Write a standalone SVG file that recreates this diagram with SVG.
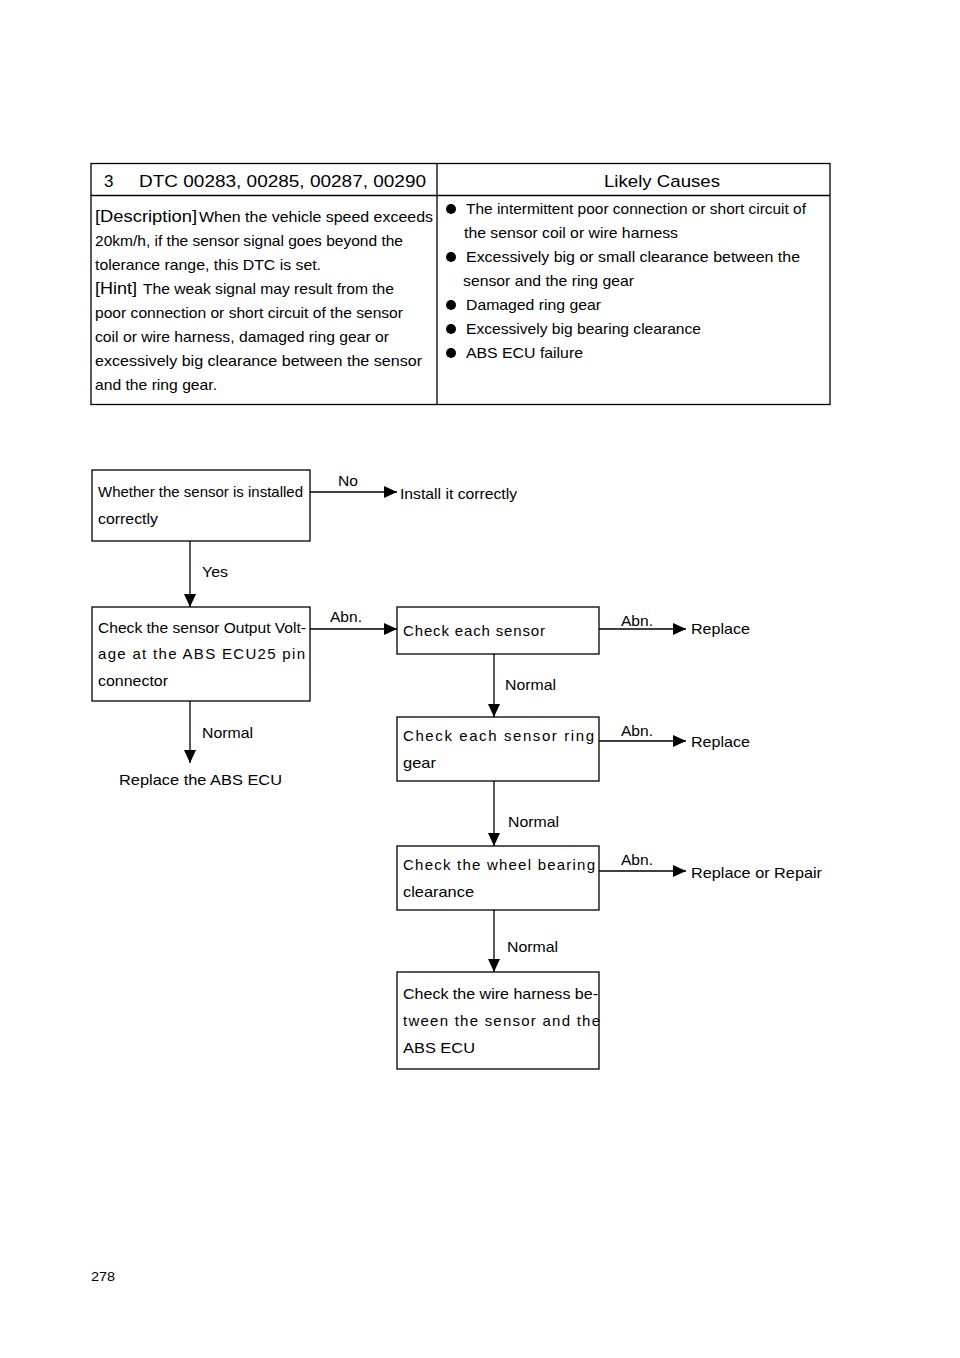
<svg xmlns="http://www.w3.org/2000/svg" width="960" height="1358" viewBox="0 0 960 1358">
<defs>
<style>
text{font-family:"Liberation Sans",Arial,sans-serif;fill:#000}
.b{font-size:15px}
.t{font-size:14.5px}
.h{font-size:17px}
.box{fill:#fff;stroke:#000;stroke-width:1.3}
.ln{stroke:#000;stroke-width:1.3;fill:none}
</style>
<marker id="ar" viewBox="0 0 13 12" refX="13" refY="6" markerWidth="13" markerHeight="12" markerUnits="userSpaceOnUse" orient="auto">
<path d="M0,0 L13,6 L0,12 Z" fill="#000"/>
</marker>
</defs>
<rect width="960" height="1358" fill="#fff"/>

<g id="table">
<rect x="91" y="163.5" width="739" height="241" class="box"/>
<line x1="91" y1="195.5" x2="830" y2="195.5" class="ln"/>
<line x1="437" y1="163.5" x2="437" y2="404.5" class="ln"/>
<text x="104" y="187" class="h">3</text>
<text x="139" y="187" class="h" textLength="287" lengthAdjust="spacingAndGlyphs">DTC 00283, 00285, 00287, 00290</text>
<text x="604" y="187" class="h" textLength="116" lengthAdjust="spacingAndGlyphs">Likely Causes</text>

<text x="95" y="222" class="h" textLength="102" lengthAdjust="spacingAndGlyphs">[Description]</text>
<text x="199" y="222" class="t" textLength="234" lengthAdjust="spacingAndGlyphs">When the vehicle speed exceeds</text>
<text x="95" y="246" class="t" textLength="308" lengthAdjust="spacingAndGlyphs">20km/h, if the sensor signal goes beyond the</text>
<text x="95" y="270" class="t" textLength="226" lengthAdjust="spacingAndGlyphs">tolerance range, this DTC is set.</text>
<text x="95" y="294" class="h" textLength="42" lengthAdjust="spacingAndGlyphs">[Hint]</text>
<text x="143" y="294" class="t" textLength="251" lengthAdjust="spacingAndGlyphs">The weak signal may result from the</text>
<text x="95" y="318" class="t" textLength="308" lengthAdjust="spacingAndGlyphs">poor connection or short circuit of the sensor</text>
<text x="95" y="342" class="t" textLength="294" lengthAdjust="spacingAndGlyphs">coil or wire harness, damaged ring gear or</text>
<text x="95" y="366" class="t" textLength="327" lengthAdjust="spacingAndGlyphs">excessively big clearance between the sensor</text>
<text x="95" y="390" class="t" textLength="122" lengthAdjust="spacingAndGlyphs">and the ring gear.</text>

<circle cx="451" cy="209" r="5"/>
<circle cx="451" cy="257" r="5"/>
<circle cx="451" cy="305" r="5"/>
<circle cx="451" cy="329" r="5"/>
<circle cx="451" cy="353" r="5"/>
<text x="466" y="214" class="t" textLength="340" lengthAdjust="spacingAndGlyphs">The intermittent poor connection or short circuit of</text>
<text x="464" y="238" class="t" textLength="214" lengthAdjust="spacingAndGlyphs">the sensor coil or wire harness</text>
<text x="466" y="262" class="t" textLength="334" lengthAdjust="spacingAndGlyphs">Excessively big or small clearance between the</text>
<text x="463" y="286" class="t" textLength="171" lengthAdjust="spacingAndGlyphs">sensor and the ring gear</text>
<text x="466" y="310" class="t" textLength="135" lengthAdjust="spacingAndGlyphs">Damaged ring gear</text>
<text x="466" y="334" class="t" textLength="235" lengthAdjust="spacingAndGlyphs">Excessively big bearing clearance</text>
<text x="466" y="358" class="t" textLength="117" lengthAdjust="spacingAndGlyphs">ABS ECU failure</text>
</g>

<g id="connectors">
<line x1="310" y1="492" x2="397" y2="492" class="ln" marker-end="url(#ar)"/>
<line x1="190" y1="541" x2="190" y2="607" class="ln" marker-end="url(#ar)"/>
<line x1="310" y1="629" x2="397" y2="629" class="ln" marker-end="url(#ar)"/>
<line x1="190" y1="701" x2="190" y2="763" class="ln" marker-end="url(#ar)"/>
<line x1="599" y1="629" x2="686" y2="629" class="ln" marker-end="url(#ar)"/>
<line x1="494" y1="654" x2="494" y2="717" class="ln" marker-end="url(#ar)"/>
<line x1="599" y1="741" x2="686" y2="741" class="ln" marker-end="url(#ar)"/>
<line x1="494" y1="781" x2="494" y2="846" class="ln" marker-end="url(#ar)"/>
<line x1="599" y1="871" x2="686" y2="871" class="ln" marker-end="url(#ar)"/>
<line x1="494" y1="910" x2="494" y2="972" class="ln" marker-end="url(#ar)"/>
<text x="338" y="486" class="b" textLength="20" lengthAdjust="spacingAndGlyphs">No</text>
<text x="202" y="577" class="b" textLength="26" lengthAdjust="spacingAndGlyphs">Yes</text>
<text x="330" y="622" class="b" textLength="32" lengthAdjust="spacingAndGlyphs">Abn.</text>
<text x="202" y="738" class="b" textLength="51" lengthAdjust="spacingAndGlyphs">Normal</text>
<text x="621" y="626" class="b" textLength="32" lengthAdjust="spacingAndGlyphs">Abn.</text>
<text x="505" y="690" class="b" textLength="51" lengthAdjust="spacingAndGlyphs">Normal</text>
<text x="621" y="736" class="b" textLength="32" lengthAdjust="spacingAndGlyphs">Abn.</text>
<text x="508" y="827" class="b" textLength="51" lengthAdjust="spacingAndGlyphs">Normal</text>
<text x="621" y="865" class="b" textLength="32" lengthAdjust="spacingAndGlyphs">Abn.</text>
<text x="507" y="952" class="b" textLength="51" lengthAdjust="spacingAndGlyphs">Normal</text>
</g>

<g id="n1">
<rect x="92" y="470" width="218" height="71" class="box"/>
<text x="98" y="497" class="b" textLength="205" lengthAdjust="spacingAndGlyphs">Whether the sensor is installed</text>
<text x="98" y="524" class="b" textLength="60" lengthAdjust="spacingAndGlyphs">correctly</text>
</g>
<g id="n_install">
<text x="400" y="499" class="b" textLength="117" lengthAdjust="spacingAndGlyphs">Install it correctly</text>
</g>
<g id="n2">
<rect x="92" y="607" width="218" height="94" class="box"/>
<text x="98" y="633" class="b" textLength="208" lengthAdjust="spacingAndGlyphs">Check the sensor Output Volt-</text>
<text x="98" y="659" class="b" textLength="207" lengthAdjust="spacing">age at the ABS ECU25 pin</text>
<text x="98" y="686" class="b" textLength="70" lengthAdjust="spacingAndGlyphs">connector</text>
</g>
<g id="n_ecu">
<text x="119" y="785" class="b" textLength="163" lengthAdjust="spacingAndGlyphs">Replace the ABS ECU</text>
</g>
<g id="n3">
<rect x="397" y="607" width="202" height="47" class="box"/>
<text x="403" y="636" class="b" textLength="142" lengthAdjust="spacing">Check each sensor</text>
</g>
<g id="n_rep1">
<text x="691" y="634" class="b" textLength="59" lengthAdjust="spacingAndGlyphs">Replace</text>
</g>
<g id="n4">
<rect x="397" y="717" width="202" height="64" class="box"/>
<text x="403" y="741" class="b" textLength="191" lengthAdjust="spacing">Check each sensor ring</text>
<text x="403" y="768" class="b" textLength="33" lengthAdjust="spacingAndGlyphs">gear</text>
</g>
<g id="n_rep2">
<text x="691" y="747" class="b" textLength="59" lengthAdjust="spacingAndGlyphs">Replace</text>
</g>
<g id="n5">
<rect x="397" y="846" width="202" height="64" class="box"/>
<text x="403" y="870" class="b" textLength="192" lengthAdjust="spacing">Check the wheel bearing</text>
<text x="403" y="897" class="b" textLength="71" lengthAdjust="spacingAndGlyphs">clearance</text>
</g>
<g id="n_rep3">
<text x="691" y="878" class="b" textLength="131" lengthAdjust="spacingAndGlyphs">Replace or Repair</text>
</g>
<g id="n6">
<rect x="397" y="972" width="202" height="97" class="box"/>
<text x="403" y="999" class="b" textLength="195" lengthAdjust="spacingAndGlyphs">Check the wire harness be-</text>
<text x="403" y="1026" class="b" textLength="197" lengthAdjust="spacing">tween the sensor and the</text>
<text x="403" y="1053" class="b" textLength="72" lengthAdjust="spacingAndGlyphs">ABS ECU</text>
</g>

<text x="91" y="1281" style="font-size:12px" textLength="24" lengthAdjust="spacingAndGlyphs">278</text>
</svg>
